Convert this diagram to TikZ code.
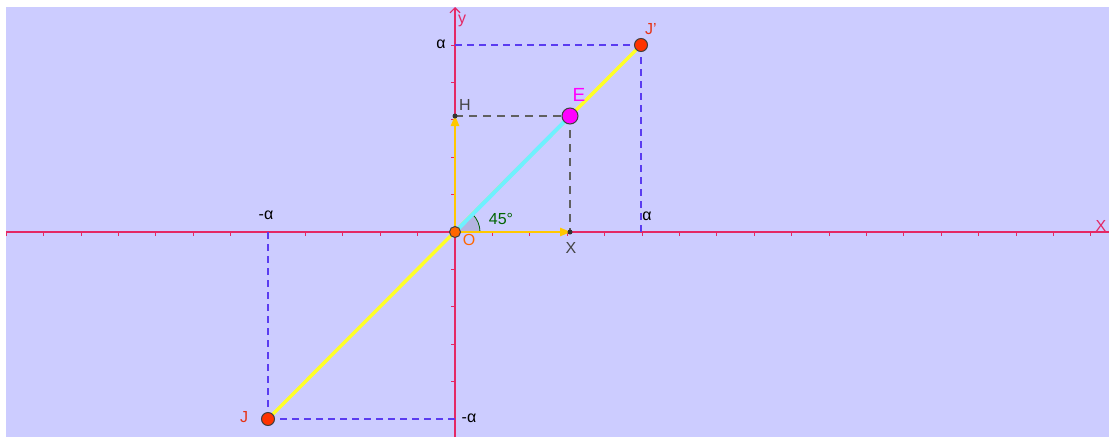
\documentclass[tikz,border=0pt]{standalone}
\usepackage{fontspec}
\setmainfont{Liberation Sans}
\usetikzlibrary{arrows.meta}
\definecolor{bg}{RGB}{204,204,255}
\definecolor{axisc}{RGB}{228,40,100}
\definecolor{dashblue}{RGB}{90,60,240}
\definecolor{gold}{RGB}{255,200,0}
\definecolor{yel}{RGB}{255,255,40}
\definecolor{cyanl}{RGB}{110,240,255}
\definecolor{ptred}{RGB}{255,51,0}
\definecolor{lblred}{RGB}{230,50,20}
\definecolor{ptor}{RGB}{255,102,0}
\definecolor{dgreen}{RGB}{0,100,0}
\definecolor{lblgray}{RGB}{68,68,68}
\definecolor{sector}{RGB}{180,180,225}
\definecolor{magE}{RGB}{255,0,255}
\tikzset{
  lbl/.style={inner sep=0pt, font=\fontsize{16}{16}\selectfont},
  axisline/.style={draw=axisc, line width=1.1pt},
  tickline/.style={draw=axisc, line width=0.9pt},
  bluedash/.style={draw=dashblue, line width=1.2pt, dash pattern=on 7pt off 5pt},
  graydash/.style={draw=lblgray!85, line width=1.2pt, dash pattern=on 8pt off 6pt},
  vec/.style={draw=gold, line width=2.6pt, -{Triangle[length=11pt,width=8pt]}, shorten >=-1pt},
  bigpt/.style={circle, draw=black!75, line width=1pt, inner sep=0pt, minimum size=13pt},
  smallpt/.style={circle, fill=black!80, inner sep=0pt, minimum size=5pt},
}
\begin{document}
\begin{tikzpicture}[x=1pt,y=-1pt]
\useasboundingbox (0,0) rectangle (1109,437);
\fill[bg] (6,7) rectangle (1109,437);
% key coordinates
\coordinate (O) at (455,232);
\coordinate (Jp) at (641,45);
\coordinate (Jc) at (268,419);
\coordinate (Ec) at (570,116);
\coordinate (Hc) at (455,116);
\coordinate (Xc) at (570,232);
\coordinate (ya) at (455,45);
\coordinate (xa) at (641,232);
\coordinate (xma) at (268,232);
\coordinate (yma) at (455,419);
\coordinate (xl) at (6,232);
\coordinate (xr) at (1109,232);
\coordinate (yb) at (455,437);
\coordinate (yt) at (455,7);
% ticks
\foreach \k in {-12,...,-1,1,2,...,17} \draw[tickline] (455+37.4*\k,232) -- ++(0,4);
\foreach \k in {-5,...,-1,1,2,...,5} \draw[tickline] (455,232-37.4*\k) -- ++(-4,0);
% axes
\draw[axisline] (xl) -- (xr);
\draw[axisline, -{Straight Barb[length=5pt,width=10pt]}] (yb) -- (yt);
% dashed guides
\draw[bluedash] (ya) -- (Jp);
\draw[bluedash] (Jp) -- (xa);
\draw[bluedash] (xma) -- (Jc);
\draw[bluedash] (Jc) -- (yma);
\draw[graydash] (Hc) -- (Ec);
\draw[graydash] (Ec) -- (Xc);
% angle sector
\fill[sector] (O) -- ++(25,0) arc (0:-45:25) -- cycle;
\draw[dgreen, line width=0.8pt] (O) ++(25,0) arc (0:-45:25);
% lines
\draw[yel, line width=3.4pt] (Jc) -- (Jp);
\draw[cyanl, line width=4pt] (O) -- (Ec);
\draw[vec] (O) -- (Hc);
\draw[vec] (O) -- (Xc);
% points
\node[smallpt] (H) at (Hc) {};
\node[smallpt] (X) at (Xc) {};
\node[bigpt, fill=ptor, minimum size=11pt] (Opt) at (O) {};
\node[bigpt, fill=ptred] (J) at (Jc) {};
\node[bigpt, fill=ptred] (J') at (Jp) {};
\node[bigpt, fill=magE, minimum size=16pt] (E) at (Ec) {};
% labels
\node[lbl, text=axisc] (ylab) at (462,21) {y};
\node[lbl, text=axisc] (xlab) at (1101,226) {X};
\node[lbl] (a1) at (441,44) {α};
\node[lbl] (a2) at (647,216) {α};
\node[lbl] (a3) at (266,215) {-α};
\node[lbl] (a4) at (469,418) {-α};
\node[lbl, text=lblred] (Jplab) at (651,29) {J'};
\node[lbl, text=lblred] (Jlab) at (244,417) {J};
\node[lbl, text=magE, font=\fontsize{19}{19}\selectfont] (Elab) at (579,95) {E};
\node[lbl, text=lblgray] (Hlab) at (465,105) {H};
\node[lbl, text=lblgray] (Xlab) at (571,248) {X};
\node[lbl, text=ptor] (Olab) at (469,240) {O};
\node[lbl, text=dgreen] (ang) at (501,219) {45°};
\end{tikzpicture}
\end{document}
